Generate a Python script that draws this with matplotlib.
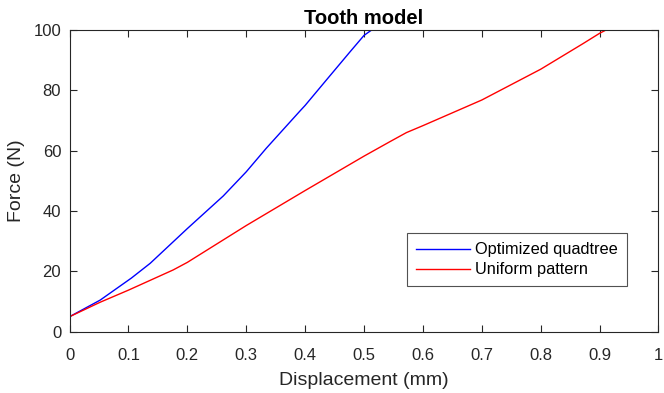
import numpy as np
import matplotlib
matplotlib.use('Agg')
import matplotlib.pyplot as plt

# Optimized quadtree (blue)
disp_quad = [0.0, 0.052, 0.105, 0.137, 0.20, 0.261, 0.30, 0.334, 0.391, 0.40, 0.436, 0.476, 0.50, 0.513]
force_quad = [5.0, 10.5, 17.8, 22.7, 34.2, 45.0, 53.0, 60.8, 73.1, 75.0, 83.4, 92.7, 98.2, 100.0]

# Uniform pattern (red)
disp_unif = [0.0, 0.052, 0.10, 0.176, 0.20, 0.30, 0.40, 0.50, 0.544, 0.572, 0.60, 0.70, 0.80, 0.872, 0.90, 0.911]
force_unif = [5.0, 9.8, 13.8, 20.5, 23.0, 35.2, 46.8, 58.2, 63.0, 66.0, 68.3, 76.8, 87.0, 95.5, 98.9, 100.0]

plt.rcParams['font.family'] = ['Liberation Sans', 'DejaVu Sans']

fig = plt.figure(figsize=(6.64, 3.93), dpi=100)
ax = fig.add_axes([0.1047, 0.1557, 0.887, 0.768])

ax.plot(disp_quad, force_quad, color='#0000ff', lw=1.0, label='Optimized quadtree')
ax.plot(disp_unif, force_unif, color='#ff0000', lw=1.0, label='Uniform pattern')

ax.set_xlim(0, 1)
ax.set_ylim(0, 100)
ax.set_xticks(np.arange(0, 1.01, 0.1))
ax.set_xticklabels(['0', '0.1', '0.2', '0.3', '0.4', '0.5', '0.6', '0.7', '0.8', '0.9', '1'])
ax.set_yticks(np.arange(0, 101, 20))

grey = '#262626'
for s in ax.spines.values():
    s.set_color(grey)
    s.set_linewidth(0.8)
ax.tick_params(direction='in', top=True, right=True, length=5, width=0.8,
               colors=grey, labelsize=12, labelcolor=grey)
ax.tick_params(axis='x', pad=12)
ax.tick_params(axis='y', pad=6)

ax.set_xlabel('Displacement (mm)', fontsize=14, color=grey, labelpad=6)
ax.set_ylabel('Force (N)', fontsize=14, color=grey, labelpad=6)
ax.set_title('Tooth model', fontsize=14.5, fontweight='bold', pad=4)

leg = ax.legend(loc='upper right', bbox_to_anchor=(0.9465, 0.326), fontsize=11.75,
                frameon=True, fancybox=False, edgecolor=grey, handlelength=3.35,
                borderpad=0.55, labelspacing=0.3, handletextpad=0.3, borderaxespad=0)
leg.get_frame().set_linewidth(0.8)

fig.savefig('out.png', dpi=100)
